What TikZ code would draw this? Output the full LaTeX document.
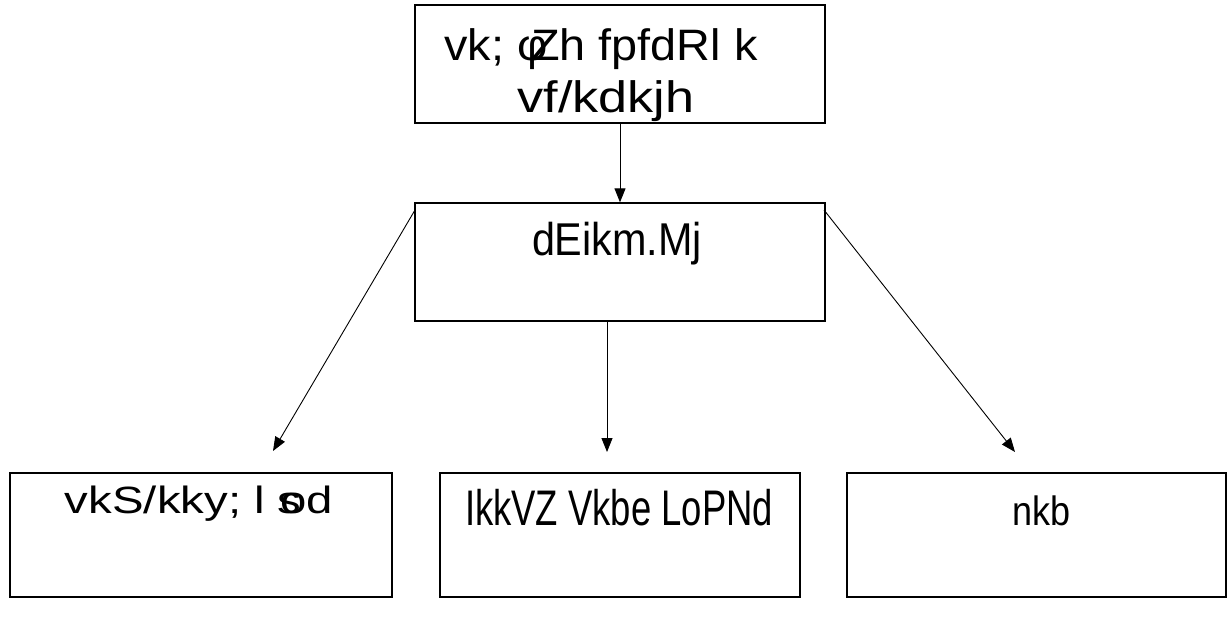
\documentclass[tikz,border=0pt]{standalone}
\usepackage{graphicx}
\usepackage{fontspec}
\setmainfont{Liberation Sans}
\usetikzlibrary{arrows.meta}
\newcommand{\fitw}[2]{\resizebox{#1}{\height}{#2}}
\begin{document}
\begin{tikzpicture}[x=1pt,y=-1pt,
  box/.style={draw,line width=1.3pt,minimum width=#1,inner sep=0pt},
  txt/.style={anchor=base,inner sep=0pt},
  conn/.style={line width=0.9pt,-{Triangle[length=14pt,width=11pt]}}]
\useasboundingbox (0,0) rectangle (1231,618);
\node[box=410pt,minimum height=118pt] (top) at (620,64) {};
\node[box=410pt,minimum height=118pt] (mid) at (620,262) {};
\node[box=382pt,minimum height=124pt] (bl) at (201,535) {};
\node[box=360pt,minimum height=124pt] (bm) at (620,535) {};
\node[box=379pt,minimum height=124pt] (br) at (1036.5,535) {};
\node[txt,font=\fontsize{44}{46}\selectfont] (t1) at (601,60) {\fitw{313pt}{vk; φ\kern-.35em Zh fpfdRl k}};
\node[txt,font=\fontsize{44}{46}\selectfont] (t2) at (606,112) {\fitw{177pt}{vf/kdkjh}};
\node[txt,font=\fontsize{46}{48}\selectfont] (t3) at (617,255) {\fitw{170pt}{dEikm.Mj}};
\node[txt,font=\fontsize{38}{40}\selectfont] (t4) at (199,513) {\fitw{268pt}{vkS/kky; l s\kern-.45em od}};
\node[txt,font=\fontsize{50}{52}\selectfont] (t5) at (619,525) {\fitw{308pt}{IkkVZ Vkbe LoPNd}};
\node[txt,font=\fontsize{41}{43}\selectfont] (t6) at (1041,525) {\fitw{58pt}{nkb}};
\coordinate (a1) at (415,210);
\coordinate (a2) at (824,210);
\coordinate (e1) at (273,451);
\coordinate (e2) at (607,452);
\coordinate (e3) at (1015,452);
\draw[conn] (top.south) -- (mid.north);
\draw[conn] (a1) -- (e1);
\draw[conn] (mid.south -| e2) -- (e2);
\draw[conn] (a2) -- (e3);
\end{tikzpicture}
\end{document}
